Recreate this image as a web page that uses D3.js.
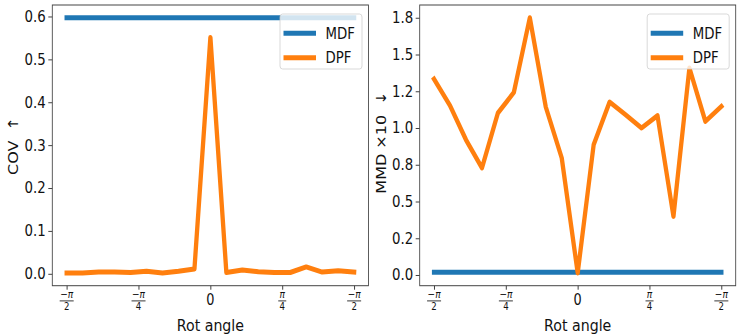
<!DOCTYPE html>
<html>
<head>
<meta charset="utf-8">
<script src="https://cdn.jsdelivr.net/npm/d3@7"></script>
<style>
  body { margin: 0; background: #fff; }
  svg text { font-family: "DejaVu Sans", sans-serif; fill: #111; white-space: pre; }
</style>
</head>
<body>
<div id="canvas"></div>
<script>
// rotation angles (degrees), converted to radians below
const rotDeg = [-90, -80, -70, -60, -50, -40, -30, -20, -10, 0, 10, 20, 30, 40, 50, 60, 70, 80, 90];

// left panel: COV
const covMDF = [0.597, 0.597, 0.597, 0.597, 0.597, 0.597, 0.597, 0.597, 0.597, 0.597,
                0.597, 0.597, 0.597, 0.597, 0.597, 0.597, 0.597, 0.597, 0.597];
const covDPF = [0.002, 0.002, 0.004, 0.004, 0.003, 0.006, 0.002, 0.006, 0.011, 0.551,
                0.003, 0.009, 0.005, 0.003, 0.003, 0.016, 0.004, 0.007, 0.004];

// right panel: MMD x10
const mmdMDF = [0.018, 0.018, 0.018, 0.018, 0.018, 0.018, 0.018, 0.018, 0.018, 0.018,
                0.018, 0.018, 0.018, 0.018, 0.018, 0.018, 0.018, 0.018, 0.018];
const mmdDPF = [1.333, 1.152, 0.920, 0.728, 1.102, 1.242, 1.750, 1.143, 0.796, 0.014,
                0.886, 1.177, 1.090, 1.000, 1.084, 0.399, 1.408, 1.045, 1.147];

const covTicks = [0, 0.1, 0.2, 0.3, 0.4, 0.5, 0.6];
const covTickLabels = ["0.0", "0.1", "0.2", "0.3", "0.4", "0.5", "0.6"];
const mmdTicks = [0, 0.25, 0.5, 0.75, 1.0, 1.25, 1.5, 1.75];
const mmdTickLabels = ["0.0", "0.2", "0.5", "0.8", "1.0", "1.2", "1.5", "1.8"];

const xTicks = [-Math.PI / 2, -Math.PI / 4, 0, Math.PI / 4, Math.PI / 2];
const xTickLabels = [
    {num: "−π", den: "2"},
    {num: "−π", den: "4"},
    "0",
    {num: "π", den: "4"},
    {num: "−π", den: "2"}
];

const seriesNames = ["MDF", "DPF"];
const colors = ["#1f77b4", "#ff7f0e"];

// the picture is squeezed horizontally, so draw wider and let the viewBox squeeze it
const SX = 0.86;
const W = 738, H = 335;
const vx = x => x / SX;

const svg = d3.select("#canvas")
    .append("svg")
    .attr("width", W)
    .attr("height", H)
    .attr("viewBox", "0 0 " + vx(W) + " " + H)
    .attr("preserveAspectRatio", "none");

const angles = rotDeg.map(d => d * Math.PI / 180);

function padded(vals) {
    const lo = d3.min(vals), hi = d3.max(vals), p = (hi - lo) * 0.05;
    return [lo - p, hi + p];
}

function drawPanel(p) {
    const w = vx(p.x1 - p.x0), h = p.y1 - p.y0;
    const g = svg.append("g").attr("transform", "translate(" + vx(p.x0) + "," + p.y0 + ")");

    const xScale = d3.scaleLinear().domain(padded(angles)).range([0, w]);
    const yScale = d3.scaleLinear().domain(padded(p.series.flat())).range([h, 0]);

    // y axis
    const yAxis = g.append("g")
        .call(d3.axisLeft(yScale)
            .tickValues(p.yTicks)
            .tickFormat((d, i) => p.yLabels[i])
            .tickSize(vx(4))
            .tickPadding(vx(2.5)));
    yAxis.select(".domain").remove();
    yAxis.selectAll(".tick line").attr("stroke", "#333");
    yAxis.selectAll(".tick text")
        .attr("font-size", 15.5)
        .attr("fill", "#111");

    // x axis (fraction labels drawn by hand)
    const xAxis = g.append("g").attr("transform", "translate(0," + h + ")")
        .call(d3.axisBottom(xScale).tickValues(xTicks).tickFormat("").tickSize(4));
    xAxis.select(".domain").remove();
    xAxis.selectAll(".tick line").attr("stroke", "#333");

    xTicks.forEach((t, i) => {
        const lab = xTickLabels[i];
        const tx = xScale(t);
        const tg = g.append("g").attr("transform", "translate(" + tx + "," + h + ")");
        if (typeof lab === "string") {
            tg.append("text").attr("text-anchor", "middle").attr("y", 19.8)
                .attr("font-size", 15).text(lab);
        } else {
            const num = tg.append("text").attr("text-anchor", "middle").attr("y", 12.3)
                .attr("font-size", 10.5);
            if (lab.num.startsWith("−")) num.append("tspan").text("−");
            num.append("tspan").attr("font-style", "italic").text("π");
            const half = lab.num.length > 1 ? 7 : 4;
            tg.append("line")
                .attr("x1", -vx(half)).attr("x2", vx(half))
                .attr("y1", 15.2).attr("y2", 15.2)
                .attr("stroke", "#111").attr("stroke-width", 0.9);
            tg.append("text").attr("text-anchor", "middle").attr("y", 24.3)
                .attr("font-size", 10).text(lab.den);
        }
    });

    // lines
    const line = d3.line().x((d, i) => xScale(angles[i])).y(d => yScale(d));
    p.series.forEach((s, k) => {
        g.append("path")
            .datum(s)
            .attr("d", line)
            .attr("fill", "none")
            .attr("stroke", colors[k])
            .attr("stroke-width", 5)
            .attr("stroke-linejoin", "round")
            .attr("stroke-linecap", "square");
    });

    // frame
    g.append("rect")
        .attr("width", w).attr("height", h)
        .attr("fill", "none").attr("stroke", "#444").attr("stroke-width", 1);

    // legend
    const lx = w - vx(6.5) - vx(82), ly = 9;
    const lg = g.append("g").attr("transform", "translate(" + lx + "," + ly + ")");
    lg.append("rect")
        .attr("width", vx(82)).attr("height", 55)
        .attr("rx", 3)
        .attr("fill", "#fff").attr("fill-opacity", 0.8)
        .attr("stroke", "#ccc").attr("stroke-opacity", 0.8);
    seriesNames.forEach((name, k) => {
        const cy = 19.3 + k * 24.4;
        lg.append("line")
            .attr("x1", vx(3.5)).attr("x2", vx(36))
            .attr("y1", cy).attr("y2", cy)
            .attr("stroke", colors[k]).attr("stroke-width", 5);
        lg.append("text")
            .attr("x", vx(45.5)).attr("y", cy + 5.5)
            .attr("font-size", 15.5)
            .text(name);
    });

    // axis labels
    g.append("text")
        .attr("text-anchor", "middle")
        .attr("x", w / 2).attr("y", 331.5 - p.y0)
        .attr("font-size", 16.5)
        .text("Rot angle");

    g.append("text")
        .attr("text-anchor", "middle")
        .attr("transform", "translate(" + vx(p.yLabelX - p.x0) + "," + (p.yLabelY - p.y0) + ") rotate(-90)")
        .attr("dy", "0.35em")
        .attr("font-size", 16)
        .text(p.yTitle);
}

drawPanel({
    x0: 52.3, x1: 368.5, y0: 5, y1: 285.7,
    series: [covMDF, covDPF],
    yTicks: covTicks, yLabels: covTickLabels,
    yTitle: "COV  ↑", yLabelX: 13.5, yLabelY: 146
});

drawPanel({
    x0: 419.7, x1: 735.7, y0: 5, y1: 285.7,
    series: [mmdMDF, mmdDPF],
    yTicks: mmdTicks, yLabels: mmdTickLabels,
    yTitle: "MMD ×10  ↓", yLabelX: 381.5, yLabelY: 142.5
});
</script>
</body>
</html>
